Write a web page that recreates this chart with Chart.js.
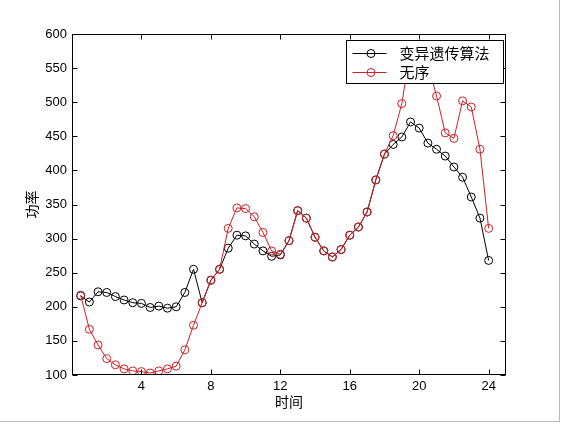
<!DOCTYPE html>
<html><head><meta charset="utf-8">
<script src="https://cdn.jsdelivr.net/npm/chart.js@4/dist/chart.umd.min.js"></script>
<style>html,body{margin:0;padding:0;background:#fff;overflow:hidden}#wrap{position:relative;width:563px;height:425px}
#edge{position:absolute;left:0;top:0;width:559px;height:421px;border-right:1px solid #b8b8b8;border-bottom:1px solid #b8b8b8;pointer-events:none}</style>
</head><body><div id="wrap"><canvas id="c" width="563" height="425"></canvas><div id="edge"></div></div>
<script>
// ---- data ----
const hours = [0.5,1,1.5,2,2.5,3,3.5,4,4.5,5,5.5,6,6.5,7,7.5,8,8.5,9,9.5,10,10.5,11,11.5,12,
               12.5,13,13.5,14,14.5,15,15.5,16,16.5,17,17.5,18,18.5,19,19.5,20,20.5,21,21.5,22,22.5,23,23.5,24];
const gaPower = [216,207,222,221,215,210,206,205,199,201,198,200,221,255,206,239,255,286,305,304,292,282,274,276,
                 297,341,330,302,282,273,284,305,317,339,386,424,438,449,471,462,440,431,421,405,390,361,330,268];
const randomPower = [217,167,144,124,115,109,106,105,103,106,109,113,137,173,206,239,255,315,345,344,332,309,282,277,
                     297,341,330,302,282,273,284,305,317,339,386,424,451,498,578,572,557,509,455,447,502,493,431,315];
const seriesNames = ['变异遗传算法', '无序'];
const xTicks = [4, 8, 12, 16, 20, 24];
const yTicks = [100,150,200,250,300,350,400,450,500,550,600];
const xTitle = '时间';
const yTitle = '功率';

const RED = '#cc1f26';
const toPts = arr => hours.map((h, i) => ({x: h, y: arr[i]}));

const framePlugin = {
  id: 'frame',
  afterDraw(chart) {
    const {ctx, chartArea: a, scales: {x, y}} = chart;
    ctx.save();
    ctx.strokeStyle = '#000';
    ctx.lineWidth = 1;
    const L = Math.round(a.left) + 0.5, R = Math.round(a.right) - 0.5;
    const T = Math.round(a.top) + 0.5, B = Math.round(a.bottom) - 0.5;
    ctx.strokeRect(L, T, R - L, B - T);
    const tl = 5;
    ctx.beginPath();
    xTicks.forEach(v => {
      const px = Math.round(x.getPixelForValue(v)) + 0.5;
      ctx.moveTo(px, B); ctx.lineTo(px, B - tl);
      ctx.moveTo(px, T); ctx.lineTo(px, T + tl);
    });
    yTicks.forEach(v => {
      const py = Math.round(y.getPixelForValue(v)) + 0.5;
      ctx.moveTo(L, py); ctx.lineTo(L + tl, py);
      ctx.moveTo(R, py); ctx.lineTo(R - tl, py);
    });
    ctx.stroke();

    // legend box (inside axes, top-right)
    const bx = Math.round(a.right) - 159.5, by = Math.round(a.top) + 6.5, bw = 157, bh = 43;
    ctx.fillStyle = '#fff';
    ctx.fillRect(bx, by, bw, bh);
    ctx.strokeRect(bx, by, bw, bh);
    const ds = chart.data.datasets;
    ctx.font = '15px "Noto Sans CJK SC", sans-serif';
    ctx.textBaseline = 'middle';
    ctx.textAlign = 'left';
    [0, 1].forEach((di, k) => {
      const d = ds[di];
      const cy = Math.round(by + 12 + k * 19.5) + 0.5;
      ctx.strokeStyle = d.borderColor;
      ctx.beginPath();
      ctx.moveTo(bx + 6, cy); ctx.lineTo(bx + 40, cy);
      ctx.stroke();
      ctx.beginPath();
      ctx.arc(bx + 24.5, cy, 4, 0, Math.PI * 2);
      ctx.stroke();
      ctx.fillStyle = '#000';
      ctx.fillText(d.label, bx + 53, cy);
    });
    ctx.restore();
  }
};

new Chart(document.getElementById('c'), {
  type: 'line',
  data: {
    datasets: [
      {label: seriesNames[0], data: toPts(gaPower), borderColor: '#000', borderWidth: 1,
       pointStyle: 'circle', pointRadius: 4, pointBorderWidth: 1, pointBorderColor: '#000',
       pointBackgroundColor: 'rgba(0,0,0,0)', tension: 0, order: 2},
      {label: seriesNames[1], data: toPts(randomPower), borderColor: RED, borderWidth: 1,
       pointStyle: 'circle', pointRadius: 4, pointBorderWidth: 1, pointBorderColor: RED,
       pointBackgroundColor: 'rgba(0,0,0,0)', tension: 0, order: 1}
    ]
  },
  options: {
    responsive: false,
    animation: false,
    devicePixelRatio: 1,
    layout: {padding: {left: 0, top: 34, right: 57, bottom: 0}},
    plugins: {legend: {display: false}, tooltip: {enabled: false}},
    scales: {
      x: {
        type: 'linear', min: 0, max: 25,
        afterBuildTicks: s => { s.ticks = xTicks.map(v => ({value: v})); },
        afterFit: s => { s.height = 50; },
        grid: {display: false, drawTicks: false},
        border: {display: false},
        ticks: {color: '#000', font: {family: '"Liberation Sans", Arial, sans-serif', size: 13}, padding: 4,
                maxRotation: 0, autoSkip: false},
        title: {display: true, text: xTitle, color: '#000',
                font: {family: '"Noto Sans CJK SC", sans-serif', size: 14}, padding: {top: 0, bottom: 15}}
      },
      y: {
        type: 'linear', min: 100, max: 600,
        afterBuildTicks: s => { s.ticks = yTicks.map(v => ({value: v})); },
        afterFit: s => { s.width = 72; },
        grid: {display: false, drawTicks: false},
        border: {display: false},
        ticks: {color: '#000', font: {family: '"Liberation Sans", Arial, sans-serif', size: 13}, padding: 5,
                autoSkip: false},
        title: {display: true, text: yTitle, color: '#000',
                font: {family: '"Noto Sans CJK SC", sans-serif', size: 14}, padding: {top: 23, bottom: 0}}
      }
    }
  },
  plugins: [framePlugin]
});
</script>
</body></html>
